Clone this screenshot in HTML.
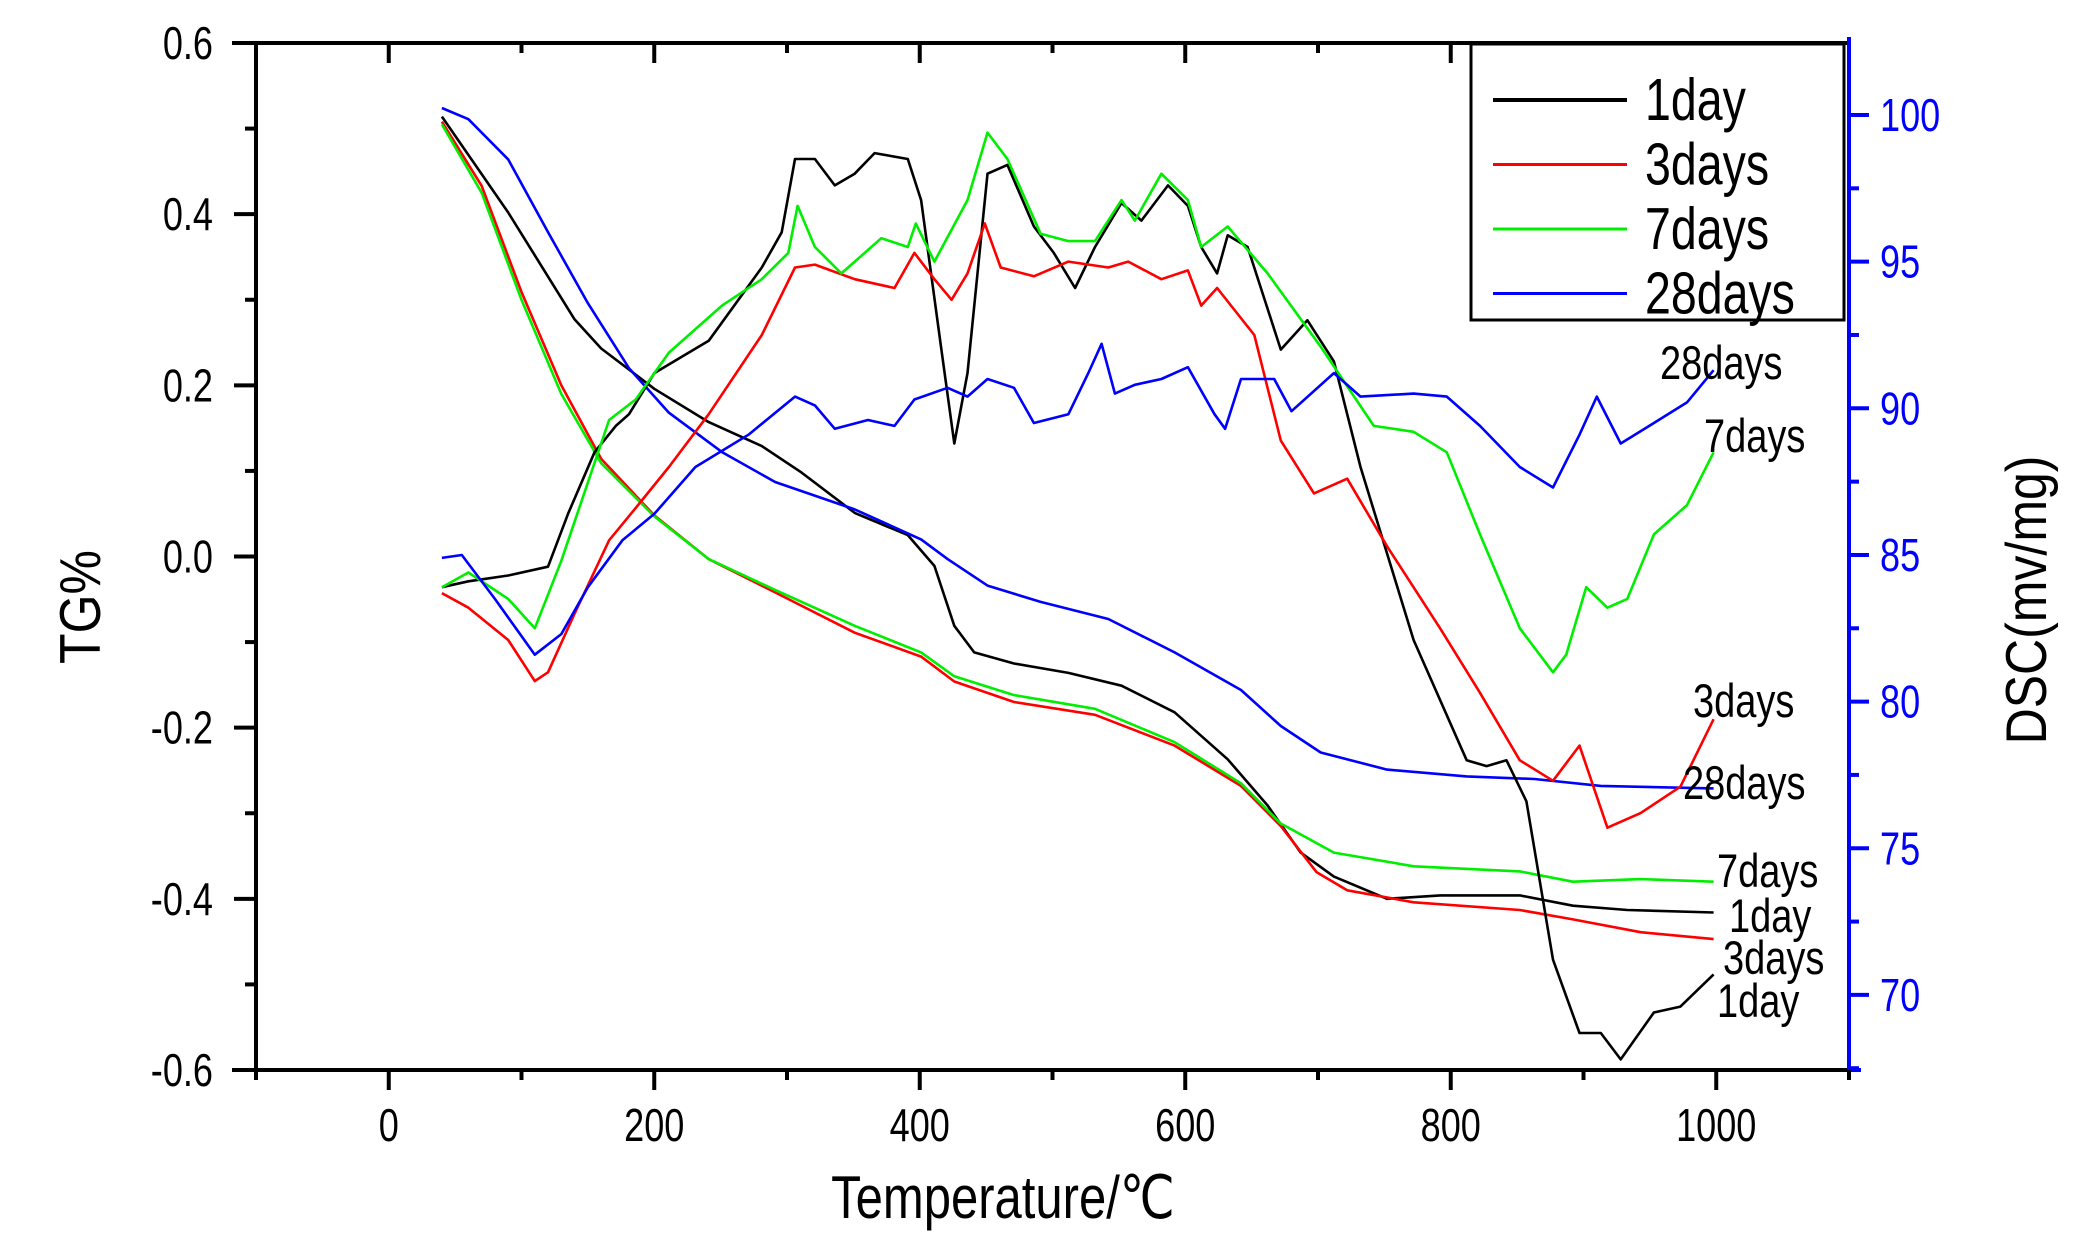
<!DOCTYPE html>
<html><head><meta charset="utf-8"><style>
html,body{margin:0;padding:0;background:#fff;}
svg{display:block;font-family:"Liberation Sans",sans-serif;}
</style></head><body>
<svg id="chart" width="2090" height="1255" viewBox="0 0 2090 1255" xmlns="http://www.w3.org/2000/svg">
<rect x="0" y="0" width="2090" height="1255" fill="#fff"/>
<g id="marks"></g>
<g id="axes"></g>
</svg>
<script>
// ---- data ----
const tgTemps1 = [40,90,140,160,200,241,281,311,351,391,411,426,441,471,512,552,592,632,662,687,712,752,792,852,892,933,998];
const tgVals1 = [0.514,0.402,0.277,0.243,0.196,0.157,0.129,0.098,0.051,0.025,-0.011,-0.081,-0.112,-0.125,-0.136,-0.151,-0.182,-0.237,-0.291,-0.346,-0.374,-0.400,-0.396,-0.396,-0.408,-0.413,-0.416];
const tgTemps3 = [40,70,100,130,160,200,241,291,351,401,426,471,532,592,642,672,699,722,772,852,892,943,998];
const tgVals3 = [0.508,0.433,0.309,0.200,0.114,0.048,-0.003,-0.042,-0.089,-0.117,-0.146,-0.170,-0.185,-0.221,-0.268,-0.315,-0.369,-0.390,-0.404,-0.413,-0.424,-0.439,-0.447];
const tgTemps7 = [40,70,100,130,160,200,241,291,351,401,426,471,532,592,642,672,712,772,852,892,943,998];
const tgVals7 = [0.505,0.425,0.300,0.190,0.109,0.047,-0.003,-0.039,-0.081,-0.112,-0.140,-0.162,-0.178,-0.217,-0.265,-0.312,-0.346,-0.362,-0.368,-0.380,-0.377,-0.380];
const tgTemps28 = [40,60,90,120,150,181,211,251,291,351,401,421,451,491,542,592,642,672,702,752,812,863,913,998];
const tgVals28 = [0.524,0.511,0.464,0.379,0.296,0.220,0.168,0.122,0.087,0.055,0.020,-0.003,-0.034,-0.053,-0.073,-0.112,-0.156,-0.198,-0.229,-0.249,-0.257,-0.260,-0.268,-0.271];

const dscTemps1 = [40,60,90,120,135,155,171,181,200,241,281,296,306,321,336,351,366,391,401,416,426,436,451,466,486,501,517,532,552,567,587,602,612,624,632,647,672,692,712,732,772,812,827,842,857,877,897,913,928,953,973,998];
const dscVals1 = [83.9,84.1,84.3,84.6,86.4,88.5,89.4,89.8,91.2,92.3,94.8,96.0,98.5,98.5,97.6,98.0,98.7,98.5,97.1,92.1,88.8,91.2,98.0,98.3,96.2,95.3,94.1,95.5,97.0,96.4,97.6,96.9,95.5,94.6,95.9,95.5,92.0,93.0,91.6,88.0,82.1,78.0,77.8,78.0,76.6,71.2,68.7,68.7,67.8,69.4,69.6,70.7];
const dscTemps3 = [40,60,90,110,120,140,166,186,211,241,281,306,321,351,381,396,411,424,436,449,461,486,512,542,557,582,602,612,624,652,672,697,722,752,792,822,852,877,897,918,943,973,998];
const dscVals3 = [83.7,83.2,82.1,80.7,81.0,83.0,85.5,86.6,88.0,89.8,92.5,94.8,94.9,94.4,94.1,95.3,94.4,93.7,94.6,96.3,94.8,94.5,95.0,94.8,95.0,94.4,94.7,93.5,94.1,92.5,88.9,87.1,87.6,85.3,82.5,80.3,78.0,77.3,78.5,75.7,76.2,77.1,79.4];
const dscTemps7 = [40,60,90,110,130,166,186,211,251,281,301,308,321,341,371,391,397,411,436,451,466,491,512,532,552,562,582,602,612,632,662,702,742,772,797,822,852,877,887,902,918,933,953,978,998];
const dscVals7 = [83.9,84.4,83.5,82.5,84.8,89.6,90.3,91.9,93.5,94.4,95.3,96.9,95.5,94.6,95.8,95.5,96.3,95.0,97.1,99.4,98.5,95.95,95.7,95.7,97.1,96.4,98.0,97.1,95.5,96.2,94.6,92.1,89.4,89.2,88.5,85.7,82.5,81.0,81.6,83.9,83.2,83.5,85.7,86.7,88.5];
const dscTemps28 = [40,55,80,110,130,150,176,200,231,271,306,321,336,361,381,396,421,436,451,471,486,512,527,537,547,562,582,602,622,630,642,667,680,712,732,772,797,822,852,877,897,910,928,953,978,998];
const dscVals28 = [84.9,85.0,83.5,81.6,82.3,83.9,85.5,86.4,88.0,89.1,90.4,90.1,89.3,89.6,89.4,90.3,90.7,90.4,91.0,90.7,89.5,89.8,91.2,92.2,90.5,90.8,91.0,91.4,89.8,89.3,91.0,91.0,89.9,91.2,90.4,90.5,90.4,89.4,88.0,87.3,89.1,90.4,88.8,89.5,90.2,91.3];

const xTicks = [0,200,400,600,800,1000];
const tgTicks = [0.6,0.4,0.2,0.0,-0.2,-0.4,-0.6];
const tgTickLabels = ["0.6","0.4","0.2","0.0","-0.2","-0.4","-0.6"];
const dscTicks = [70,75,80,85,90,95,100];
const legendLabels = ["1day","3days","7days","28days"];
const seriesColors = ["#000000","#ff0000","#00ee00","#0000ff"];

// ---- axis functions ----
const X0 = 256, X1 = 1849, Y0 = 43, Y1 = 1070;
function xs(t){ return X0 + (t + 100) / 1200 * (X1 - X0); }
function ytg(v){ return Y0 + (0.6 - v) / 1.2 * (Y1 - Y0); }
function ydsc(v){ return 115 + (100 - v) * 29.33; }

const NS = "http://www.w3.org/2000/svg";
const marks = document.getElementById('marks');
const axes = document.getElementById('axes');
function mk(tag, attrs, parent){
  const e = document.createElementNS(NS, tag);
  for (const k in attrs) e.setAttribute(k, attrs[k]);
  parent.appendChild(e);
  return e;
}
function txt(x, y, size, sx, sy, anchor, color, parent, extra){
  const e = mk('text',{x:0,y:0,'font-size':size,'text-anchor':anchor,fill:color,
    transform:'translate('+x+','+y+')'+(extra||'')+' scale('+sx+','+sy+')'},parent);
  return e;
}
function pathD(ts, vs, yf){
  return ts.map((t,i)=>(i?'L':'M')+xs(t).toFixed(1)+','+yf(vs[i]).toFixed(1)).join(' ');
}

const tgSets = [[tgTemps1,tgVals1],[tgTemps3,tgVals3],[tgTemps7,tgVals7],[tgTemps28,tgVals28]];
const dscSets = [[dscTemps1,dscVals1],[dscTemps3,dscVals3],[dscTemps7,dscVals7],[dscTemps28,dscVals28]];
tgSets.forEach((s,i)=>{
  const p = mk('path',{d:pathD(s[0],s[1],ytg),fill:'none',stroke:seriesColors[i],'stroke-width':2.6,'stroke-linejoin':'round'},marks);
  
  
});
dscSets.forEach((s,i)=>{
  const p = mk('path',{d:pathD(s[0],s[1],ydsc),fill:'none',stroke:seriesColors[i],'stroke-width':2.6,'stroke-linejoin':'round'},marks);
  
  
});

// axes lines
let a;
a = mk('line',{x1:X0,y1:Y0-2,x2:X0,y2:Y1+2,stroke:'#000','stroke-width':4},axes);


a = mk('line',{x1:X0-24,y1:Y0,x2:X1,y2:Y0,stroke:'#000','stroke-width':4},axes);


a = mk('line',{x1:X0-24,y1:Y1,x2:X1,y2:Y1,stroke:'#000','stroke-width':4},axes);


a = mk('line',{x1:X1,y1:Y0-6,x2:X1,y2:Y1+2,stroke:'#0000ff','stroke-width':4},axes);


mk('line',{x1:X1,y1:Y1,x2:X1+12,y2:Y1,stroke:'#0000ff','stroke-width':4},axes);

// x ticks
for (let t=-100; t<=1100; t+=100){
  const major = xTicks.indexOf(t) >= 0;
  const x = xs(t);
  mk('line',{x1:x,y1:Y1,x2:x,y2:Y1+(major?20:10),stroke:'#000','stroke-width':4},axes);
  if (t>-100 && t<1100) mk('line',{x1:x,y1:Y0,x2:x,y2:Y0+(major?20:10),stroke:'#000','stroke-width':4},axes);
}
xTicks.forEach(t=>{
  const e = txt(xs(t), 1141, 38, 0.95, 1.22, 'middle', '#000', axes);
  e.textContent = t;
  
  
});
// left ticks
for (let k=0;k<=12;k++){
  const v = 0.6 - k*0.1;
  const major = k%2===0;
  const y = ytg(v);
  mk('line',{x1:X0,y1:y,x2:X0-(major?22:11),y2:y,stroke:'#000','stroke-width':4},axes);
}
tgTicks.forEach((v,i)=>{
  const e = txt(213, ytg(v)+16, 38, 0.95, 1.22, 'end', '#000', axes);
  e.textContent = tgTickLabels[i];
  
  
});
// right ticks
for (let v=67.5; v<=102.5; v+=2.5){
  const y = ydsc(v);
  if (y < Y0 || y > Y1) continue;
  const major = (v % 5) === 0;
  mk('line',{x1:X1,y1:y,x2:X1+(major?20:10),y2:y,stroke:'#0000ff','stroke-width':4},axes);
}
dscTicks.forEach(v=>{
  const e = txt(1880, ydsc(v)+16, 38, 0.95, 1.22, 'start', '#0000ff', axes);
  e.textContent = v;
  
  
});

// titles
let tt;
tt = txt(1003, 1218, 50, 0.98, 1.2, 'middle', '#000', axes);
tt.textContent = 'Temperature/℃';


tt = txt(100, 607, 50, 1.0, 1.15, 'middle', '#000', axes, ' rotate(-90)');
tt.textContent = 'TG%';


tt = txt(2046, 600, 50, 1.0, 1.15, 'middle', '#000', axes, ' rotate(-90)');
tt.textContent = 'DSC(mv/mg)';



// end annotations
const annText = ["28days","7days","3days","28days","7days","1day","3days","1day"];
const annPos = [[1660,362],[1704,435],[1693,700],[1683,782],[1717,870],[1729,915],[1723,957],[1717,1000]];
annText.forEach((s,i)=>{
  const e = txt(annPos[i][0], annPos[i][1]+17, 40, 0.95, 1.18, 'start', '#000', axes);
  e.textContent = s;
  
  
});

// legend
const lg = mk('g',{},axes);


mk('rect',{x:1471,y:44,width:373,height:276,fill:'#fff',stroke:'#000','stroke-width':3},lg);
legendLabels.forEach((s,i)=>{
  const y = 100 + i*64.5;
  const l = mk('line',{x1:1493,y1:y,x2:1627,y2:y,stroke:seriesColors[i],'stroke-width':i===0?4:3},lg);
  
  
  const e = txt(1645, y+20, 50, 0.93, 1.18, 'start', '#000', lg);
  e.textContent = s;
  
  
});
</script>
</body></html>
